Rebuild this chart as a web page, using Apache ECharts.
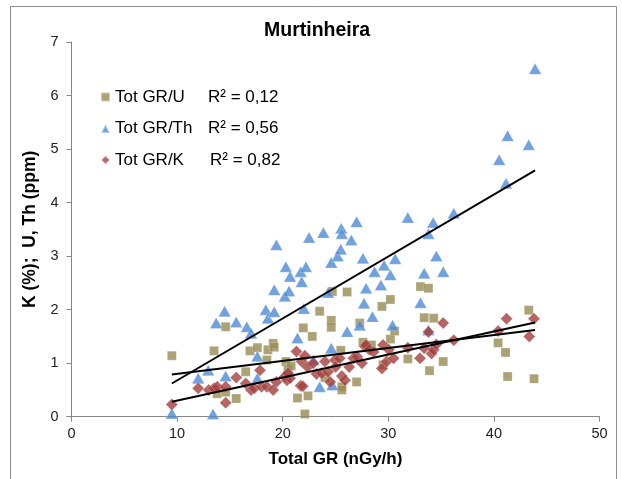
<!DOCTYPE html>
<html><head><meta charset="utf-8">
<script src="https://cdn.jsdelivr.net/npm/echarts@6/dist/echarts.min.js"></script>
<style>html,body{margin:0;padding:0;background:#fff}#c{width:622px;height:479px}</style>
</head><body><div id="c"></div>
<script>
const titleText = 'Murtinheira';
const xName = 'Total GR (nGy/h)';
const yName = 'K (%);  U, Th (ppm)';
const seriesNames = ['Tot GR/U', 'Tot GR/Th', 'Tot GR/K'];
const r2Labels = ['R² = 0,12', 'R² = 0,56', 'R² = 0,82'];

const uPoints = [[9.5,1.14],[13.5,1.23],[13.8,0.43],[14.6,1.68],[14.6,0.46],[15.6,0.34],[16.5,0.84],[16.9,1.23],[17.6,1.29],[18.5,1.06],[18.6,1.25],[19.1,1.37],[19.2,1.30],[20.3,1.03],[20.5,0.88],[20.8,0.95],[21.4,0.35],[21.95,1.66],[22.1,0.05],[22.4,0.39],[22.8,1.50],[23.5,1.97],[24.0,0.73],[24.6,1.80],[24.6,1.67],[24.7,2.34],[25.5,1.24],[25.6,0.56],[25.6,0.50],[26.1,2.33],[27.0,0.65],[27.3,1.75],[27.6,1.39],[28.4,1.34],[29.4,2.06],[29.5,0.97],[30.2,2.19],[30.2,1.45],[30.6,1.60],[31.85,1.08],[33.05,2.43],[33.8,2.40],[33.4,1.85],[34.3,1.84],[33.9,0.86],[35.2,1.03],[40.4,1.38],[41.1,1.20],[41.3,0.75],[43.3,1.99],[43.8,0.71]];
const thPoints = [[9.5,0.06],[13.4,0.05],[12.0,0.72],[12.95,0.87],[13.7,1.75],[14.5,1.97],[14.6,0.76],[15.6,1.77],[16.6,1.68],[17.0,1.56],[17.6,1.13],[17.6,0.72],[18.4,2.0],[18.6,1.84],[19.2,2.37],[19.2,1.96],[19.4,3.21],[20.3,2.80],[20.2,2.25],[20.6,2.35],[20.7,2.62],[21.4,1.47],[21.7,2.71],[21.8,2.52],[22.0,2.02],[22.2,2.80],[22.5,3.35],[22.9,1.06],[23.5,0.56],[23.85,3.44],[24.3,2.32],[24.6,1.28],[24.7,0.59],[24.6,2.88],[25.2,3.0],[25.5,3.13],[25.55,3.52],[25.6,3.42],[26.1,1.59],[26.5,3.30],[27.0,3.64],[27.3,1.71],[27.6,2.96],[27.7,2.12],[27.9,2.40],[28.5,1.87],[28.7,2.71],[29.3,2.46],[29.6,2.83],[30.2,2.65],[30.4,1.71],[30.65,2.95],[31.85,3.72],[33.05,2.13],[33.4,2.68],[33.8,3.42],[34.25,3.63],[34.55,3.0],[35.2,2.71],[36.2,3.80],[33.8,1.62],[40.5,4.80],[41.15,4.36],[41.3,5.25],[43.3,5.08],[43.9,6.50]];
const kPoints = [[9.5,0.23],[12.0,0.53],[13.0,0.50],[13.5,0.53],[13.8,0.56],[14.6,0.56],[14.6,0.26],[15.6,0.73],[16.5,0.62],[17.0,0.50],[17.3,0.53],[17.85,0.87],[18.0,0.56],[18.5,0.56],[19.1,0.50],[19.4,0.65],[20.2,0.75],[20.4,0.68],[20.7,0.72],[20.5,0.81],[21.3,1.22],[21.7,0.58],[21.9,0.57],[21.8,1.03],[22.1,1.14],[22.35,0.93],[22.9,1.0],[23.2,0.80],[23.7,0.81],[24.0,1.03],[24.3,0.84],[24.5,0.65],[24.95,1.06],[25.0,0.93],[25.4,1.09],[25.6,0.76],[25.9,0.68],[26.3,0.93],[26.7,1.09],[27.05,1.12],[27.5,1.0],[27.8,1.31],[27.9,1.34],[28.2,1.25],[28.6,1.21],[29.4,0.90],[29.5,1.34],[29.85,1.03],[30.05,1.25],[30.5,1.09],[31.85,1.29],[33.0,1.09],[33.4,1.28],[33.8,1.58],[34.1,1.18],[34.3,1.25],[34.55,1.35],[35.2,1.75],[36.2,1.43],[40.4,1.60],[41.2,1.83],[43.35,1.50],[43.8,1.83]];

// trendline endpoints
const uTrend = [[9.5,0.79],[43.9,1.62]];
const thTrend = [[9.5,0.62],[43.9,4.60]];
const kTrend = [[9.5,0.28],[43.9,1.76]];

const colors = ['#968B52', '#4F8BD6', '#A23F3C'];
const FONT = 'Liberation Sans, Arial, sans-serif';

const chart = echarts.init(document.getElementById('c'), null, {renderer: 'canvas'});
const trend = (d) => ({type:'line', data:d, symbol:'none', silent:true, z:5,
  lineStyle:{color:'#000', width:2}, itemStyle:{color:'#000'}, animation:false});
const r2Map = {};
seriesNames.forEach((n,i)=>{ r2Map[n]=r2Labels[i]; });

chart.setOption({
  animation: false,
  backgroundColor: '#fff',
  title: {text: titleText, left: 264, top: 21, padding: 0,
    textStyle: {fontFamily: FONT, fontSize: 19.5, fontWeight: 'bold', color: '#000'}},
  graphic: [{type:'rect', shape:{x:10.5, y:6.5, width:606, height:490}, silent:true,
    style:{fill:'none', stroke:'#8c8c8c', lineWidth:1}}],
  legend: {
    orient: 'vertical', left: 100, top: 88, padding: 0, itemGap: 13.5, itemWidth: 9, itemHeight: 9,
    data: [{name: seriesNames[0], icon:'rect'}, {name: seriesNames[1], icon:'triangle'}, {name: seriesNames[2], icon:'diamond'}],
    formatter: (n) => n === seriesNames[2] ? '{k|' + n + '}{b|' + r2Map[n] + '}' : '{a|' + n + '}{b|' + r2Map[n] + '}',
    textStyle: {fontFamily: FONT, fontSize: 17, color: '#000', lineHeight: 18,
      rich: {a:{width: 93, fontFamily: FONT, fontSize: 17}, k:{width: 95, fontFamily: FONT, fontSize: 17}, b:{fontFamily: FONT, fontSize: 17}}}
  },
  grid: {left: 71.5, right: 22.5, top: 42, bottom: 62.3, containLabel: false},
  xAxis: {type: 'value', min: 0, max: 50, interval: 10,
    name: xName, nameLocation: 'middle', nameGap: 34,
    nameTextStyle: {fontFamily: FONT, fontSize: 17, fontWeight: 'bold', color: '#000'},
    axisLine: {show: true, lineStyle: {color: '#868686', width: 1}},
    axisTick: {show: true, length: 5, lineStyle: {color: '#868686'}},
    axisLabel: {margin: 10, fontFamily: FONT, fontSize: 14.5, color: '#222'},
    splitLine: {show: false}},
  yAxis: {type: 'value', min: 0, max: 7, interval: 1,
    name: yName, nameLocation: 'middle', nameGap: 27, nameRotate: 90,
    nameTextStyle: {fontFamily: FONT, fontSize: 17.5, fontWeight: 'bold', color: '#000'},
    axisLine: {show: true, lineStyle: {color: '#868686', width: 1}},
    axisTick: {show: true, length: 5, lineStyle: {color: '#868686'}},
    axisLabel: {margin: 13, fontFamily: FONT, fontSize: 14.5, color: '#222'},
    splitLine: {show: false}},
  series: [
    {name: seriesNames[0], type:'scatter', data: uPoints, symbol:'rect', symbolSize: 9,
      itemStyle:{color: colors[0], borderColor:'rgba(255,255,255,0.6)', borderWidth:0.5}, z:2},
    {name: seriesNames[1], type:'scatter', data: thPoints, symbol:'triangle', symbolSize: [12.5,11],
      itemStyle:{color: colors[1], borderColor:'rgba(255,255,255,0.6)', borderWidth:0.5}, z:3},
    {name: seriesNames[2], type:'scatter', data: kPoints, symbol:'diamond', symbolSize: 12,
      itemStyle:{color: colors[2], borderColor:'rgba(255,255,255,0.6)', borderWidth:0.5}, z:4},
    trend(uTrend), trend(thTrend), trend(kTrend)
  ]
});
</script></body></html>
